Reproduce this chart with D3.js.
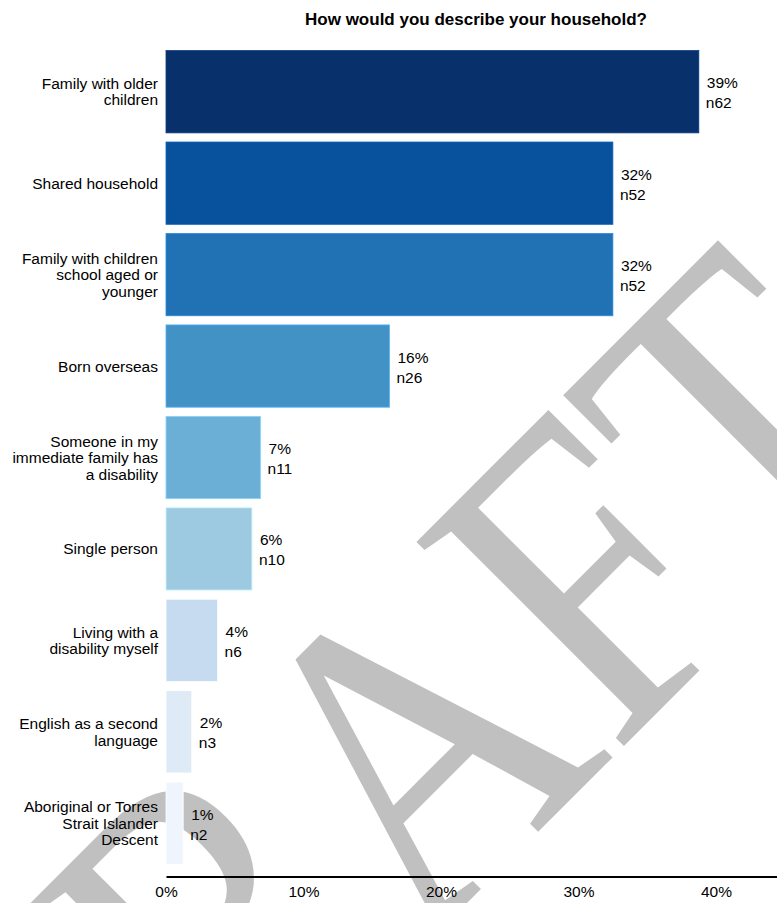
<!DOCTYPE html>
<html>
<head>
<meta charset="utf-8">
<script src="https://cdn.jsdelivr.net/npm/d3@7"></script>
<style>
  html, body { margin: 0; padding: 0; background: #fff; }
  svg { display: block; }
  text { font-family: "Liberation Sans", Arial, sans-serif; }
</style>
</head>
<body>
<script>
// ---- Data ----
const title = "How would you describe your household?";
const categories = [
  "Family with older children",
  "Shared household",
  "Family with children school aged or younger",
  "Born overseas",
  "Someone in my immediate family has a disability",
  "Single person",
  "Living with a disability myself",
  "English as a second language",
  "Aboriginal or Torres Strait Islander Descent"
];
const categoryLines = [
  ["Family with older", "children"],
  ["Shared household"],
  ["Family with children", "school aged or", "younger"],
  ["Born overseas"],
  ["Someone in my", "immediate family has", "a disability"],
  ["Single person"],
  ["Living with a", "disability myself"],
  ["English as a second", "language"],
  ["Aboriginal or Torres", "Strait Islander", "Descent"]
];
const percentValues = [38.75, 32.5, 32.5, 16.25, 6.875, 6.25, 3.75, 1.875, 1.25];
const percentLabels = ["39%", "32%", "32%", "16%", "7%", "6%", "4%", "2%", "1%"];
const countLabels = ["n62", "n52", "n52", "n26", "n11", "n10", "n6", "n3", "n2"];
const barColors = ["#08306b", "#08519c", "#2171b5", "#4292c6", "#6baed6", "#9ecae1", "#c6dbef", "#deebf7", "#eef5fc"];
const tickValues = [0, 10, 20, 30, 40];
const tickLabels = ["0%", "10%", "20%", "30%", "40%"];
const watermarkLetters = ["D", "R", "A", "F", "T"];

// ---- Layout ----
const W = 777, H = 903;
const svg = d3.select("body").append("svg").attr("width", W).attr("height", H);

const x = d3.scaleLinear().domain([0, 45]).range([166, 166 + 13.75 * 45]);
const y = d3.scaleBand().domain(categories).range([46, 869]).paddingInner(0.1).paddingOuter(0.05);

// Watermark (behind everything), letters placed along a -45° baseline
const wmOffsets = [-528, -253.5, 0, 274.4, 486];
const wmRise = [-15, -15, 0, 0, 0];
const wm = svg.append("text")
  .attr("transform", "translate(420.5,949.5) rotate(-45) scale(1,1.17)")
  .style("font-family", "'Liberation Serif', 'Times New Roman', serif")
  .style("font-size", "380px")
  .attr("fill", "#c0c0c0");
watermarkLetters.forEach((l, i) => {
  wm.append("tspan").attr("x", wmOffsets[i]).attr("y", wmRise[i]).text(l);
});

// Title
svg.append("text")
  .attr("x", 476).attr("y", 25)
  .attr("text-anchor", "middle")
  .style("font-size", "17px")
  .style("font-weight", "bold")
  .attr("fill", "#000")
  .text(title);

// Bars
svg.append("g").selectAll("rect")
  .data(categories)
  .join("rect")
  .attr("x", x(0))
  .attr("y", d => y(d))
  .attr("width", (d, i) => x(percentValues[i]) - x(0))
  .attr("height", y.bandwidth())
  .attr("fill", (d, i) => barColors[i])
  .attr("stroke", (d, i) => d3.color(barColors[i]).brighter(0.6))
  .attr("stroke-width", 0.8);

// Category labels
const lineH = 16.5;
const catG = svg.append("g");
categories.forEach((c, i) => {
  const cy = y(c) + y.bandwidth() / 2;
  const lines = categoryLines[i];
  const t = catG.append("text")
    .attr("text-anchor", "end")
    .style("font-size", "15.5px")
    .attr("fill", "#000");
  lines.forEach((ln, j) => {
    t.append("tspan")
      .attr("x", 158)
      .attr("y", cy + (j - (lines.length - 1) / 2) * lineH + 5.5)
      .text(ln);
  });
});

// Value labels
const valG = svg.append("g");
categories.forEach((c, i) => {
  const cy = y(c) + y.bandwidth() / 2;
  const bx = x(percentValues[i]) + 8;
  valG.append("text")
    .attr("x", bx).attr("y", cy - 3.5)
    .style("font-size", "15.5px")
    .attr("fill", "#000")
    .text(percentLabels[i]);
  valG.append("text")
    .attr("x", bx - 1).attr("y", cy + 16.5)
    .style("font-size", "15.5px")
    .attr("fill", "#000")
    .text(countLabels[i]);
});

// X axis
const axis = d3.axisBottom(x)
  .tickValues(tickValues)
  .tickFormat((d, i) => tickLabels[i])
  .tickSize(0)
  .tickPadding(9.5);
const ax = svg.append("g")
  .attr("transform", "translate(0,876.5)")
  .call(axis);
ax.select(".domain").attr("stroke", "#000").attr("stroke-width", 2);
ax.selectAll(".tick text")
  .style("font-size", "15.5px")
  .style("font-family", "'Liberation Sans', Arial, sans-serif")
  .attr("fill", "#000");
</script>
</body>
</html>
